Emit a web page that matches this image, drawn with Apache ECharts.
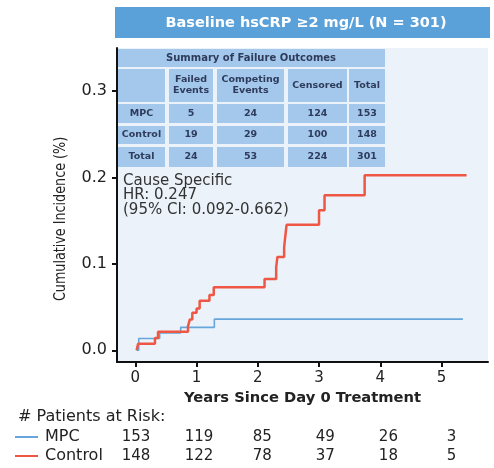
<!DOCTYPE html>
<html>
<head>
<meta charset="utf-8">
<script src="https://cdn.jsdelivr.net/npm/echarts@6/dist/echarts.min.js"></script>
<style>
html,body{margin:0;padding:0;background:#fff;}
#c{width:494px;height:468px;}
</style>
</head>
<body>
<div id="c"></div>
<script>
// ---- data ----
var titleText = 'Baseline hsCRP \u22652 mg/L (N = 301)';
var xTicks = [0, 1, 2, 3, 4, 5];
var yTicks = [0, 0.1, 0.2, 0.3];
var xAxisName = 'Years Since Day 0 Treatment';
var yAxisName = 'Cumulative Incidence (%)';
var controlSteps = [[0.02,0],[0.045,0.0075],[0.32,0.0143],[0.37,0.0213],[0.86,0.028],[0.89,0.0357],[0.93,0.0434],[1.0,0.0484],[1.05,0.0574],[1.21,0.064],[1.28,0.0729],[2.11,0.0826],[2.30,0.096],[2.32,0.108],[2.43,0.119],[2.45,0.1326],[2.47,0.1453],[3.0,0.162],[3.09,0.1794],[3.745,0.2027],[5.41,0.2027]];
var mpcSteps = [[0.02,0],[0.055,0.0136],[0.397,0.02],[0.74,0.0265],[1.29,0.036],[5.35,0.036]];
var tableTitle = 'Summary of Failure Outcomes';
var tableHeader = ['', 'Failed\nEvents', 'Competing\nEvents', 'Censored', 'Total'];
var tableRows = [['MPC','5','24','124','153'],['Control','19','29','100','148'],['Total','24','53','224','301']];
var hrLines = ['Cause Specific', 'HR: 0.247', '(95% CI: 0.092-0.662)'];
var riskTitle = '# Patients at Risk:';
var riskGroups = ['MPC', 'Control'];
var riskMPC = [153, 119, 85, 49, 26, 3];
var riskControl = [148, 122, 78, 37, 18, 5];

// ---- styles / layout ----
var FONT = '"DejaVu Sans", "Noto Sans", sans-serif';
var RED = '#ef5745', BLUE = '#66a6da';
var cellBg = '#a4c8eb', cellText = '#2e3b5c';
var colX = [[118,165],[169,213],[217,284],[288,347],[349,385]];
var rowY = [[69,102],[104,123],[126,144],[147,167]];
var titleRowY = [49,67];

var graphics = [];
// banner
graphics.push({type:'rect', shape:{x:115,y:7,width:375,height:31}, style:{fill:'#5aa1d9'}, z:1});
graphics.push({type:'text', x:306, y:23, style:{text:titleText, fill:'#fff', font:'bold 14.5px '+FONT, textAlign:'center', textVerticalAlign:'middle'}, z:2});
// table
graphics.push({type:'rect', shape:{x:118,y:titleRowY[0],width:267,height:titleRowY[1]-titleRowY[0]}, style:{fill:cellBg}, z:1});
graphics.push({type:'text', x:251, y:(titleRowY[0]+titleRowY[1])/2, style:{text:tableTitle, fill:cellText, font:'bold 10px '+FONT, textAlign:'center', textVerticalAlign:'middle'}, z:2});
var allRows = [tableHeader].concat(tableRows);
allRows.forEach(function(row, ri){
  row.forEach(function(cell, ci){
    var x0 = colX[ci][0], x1 = colX[ci][1], y0 = rowY[ri][0], y1 = rowY[ri][1];
    graphics.push({type:'rect', shape:{x:x0,y:y0,width:x1-x0,height:y1-y0}, style:{fill:cellBg}, z:1});
    if (cell !== '') {
      graphics.push({type:'text', x:(x0+x1)/2, y:(y0+y1)/2, style:{text:cell, fill:cellText, font:'bold 9.5px '+FONT, textAlign:'center', textVerticalAlign:'middle', lineHeight:11}, z:2});
    }
  });
});
// HR annotation
hrLines.forEach(function(t, i){
  graphics.push({type:'text', x:123, y:181 + i*14.5, style:{text:t, fill:'#333', font:'15px '+FONT, textAlign:'left', textVerticalAlign:'middle'}, z:2});
});
// y axis name (condensed look)
graphics.push({type:'text', x:61, y:219, rotation:Math.PI/2, scaleX:0.85, style:{text:yAxisName, fill:'#222', font:'15px '+FONT, textAlign:'center', textVerticalAlign:'middle'}, z:2});
// risk table
graphics.push({type:'text', x:18, y:417, style:{text:riskTitle, fill:'#222', font:'16px '+FONT, textAlign:'left', textVerticalAlign:'middle'}, z:2});
var riskData = [riskMPC, riskControl];
var riskColors = [BLUE, RED];
var riskY = [437, 456];
riskGroups.forEach(function(g, gi){
  graphics.push({type:'line', shape:{x1:15,y1:riskY[gi],x2:38,y2:riskY[gi]}, style:{stroke:riskColors[gi], lineWidth:2}, z:2});
  graphics.push({type:'text', x:45, y:riskY[gi], style:{text:g, fill:'#222', font:'16px '+FONT, textAlign:'left', textVerticalAlign:'middle'}, z:2});
  riskData[gi].forEach(function(v, i){
    graphics.push({type:'text', x:136 + 63.1*i, y:riskY[gi], style:{text:String(v), fill:'#222', font:'15px '+FONT, textAlign:'center', textVerticalAlign:'middle'}, z:2});
  });
});

var chart = echarts.init(document.getElementById('c'), null, {renderer:'canvas'});
chart.setOption({
  animation: false,
  backgroundColor: '#fff',
  grid: {left:117, right:6, top:48, bottom:106, show:true, backgroundColor:'#ebf2fa', borderWidth:0},
  xAxis: {
    type:'value', min:-0.3, max:5.76,
    name:xAxisName, nameLocation:'middle', nameGap:27,
    nameTextStyle:{fontFamily:FONT, fontWeight:'bold', fontSize:14.7, color:'#222'},
    axisLine:{show:true, onZero:false, lineStyle:{color:'#111', width:2}},
    axisTick:{show:true, length:5, customValues:xTicks, lineStyle:{color:'#111', width:2}},
    axisLabel:{customValues:xTicks, margin:9, fontFamily:FONT, fontSize:15, color:'#222'},
    splitLine:{show:false}
  },
  yAxis: {
    type:'value', min:-0.0136, max:0.35,
    axisLine:{show:true, onZero:false, lineStyle:{color:'#111', width:2}},
    axisTick:{show:true, length:5, customValues:yTicks, lineStyle:{color:'#111', width:2}},
    axisLabel:{customValues:yTicks, margin:10, fontFamily:FONT, fontSize:16, color:'#222', formatter:function(v){return v.toFixed(1);}},
    splitLine:{show:false}
  },
  series: [
    {name:'MPC', type:'line', step:'end', data:mpcSteps, showSymbol:false, lineStyle:{color:BLUE, width:1.6}, z:3},
    {name:'Control', type:'line', step:'end', data:controlSteps, showSymbol:false, lineStyle:{color:RED, width:2.5}, z:4}
  ],
  graphic: graphics
});
</script>
</body>
</html>
